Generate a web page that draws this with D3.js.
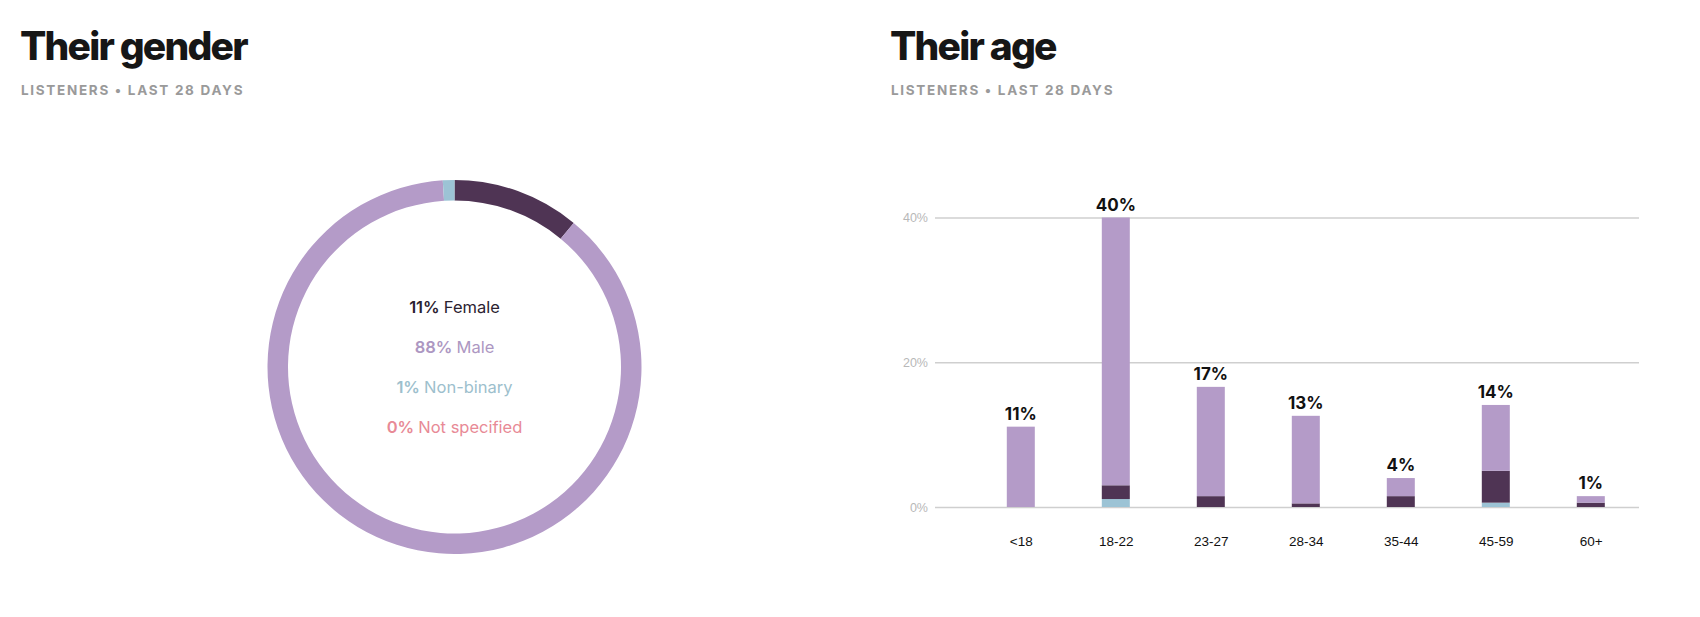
<!DOCTYPE html>
<html>
<head>
<meta charset="utf-8">
<script src="https://cdn.jsdelivr.net/npm/d3@7"></script>
<style>
  body { margin: 0; background: #fff; }
  svg { display: block; font-family: Inter, "Noto Sans", sans-serif; }
  .grid line { stroke: #cfcfcf; stroke-width: 1.5; }
  .grid text { fill: #b8b8b8; font-size: 12.5px; }
  .xaxis text { fill: #111; font-size: 13.5px; }
</style>
</head>
<body>
<div id="chart"></div>
<script>
// gender split
const genders = ['Female', 'Male', 'Non-binary', 'Not specified'];
const genderValues = [11, 88, 1, 0];
const genderColors = ['#4f3454', '#b49bc8', '#9cc3d5', '#e8838f'];
const genderTextColors = ['#2b2230', '#ad97c2', '#9dbfcd', '#e88a96'];

// age split, stacked bottom to top: non-binary, female, male
const ageGroups = ['<18', '18-22', '23-27', '28-34', '35-44', '45-59', '60+'];
const ageNonBinary = [0, 1.1, 0, 0, 0, 0.6, 0];
const ageFemale = [0, 1.9, 1.5, 0.5, 1.5, 4.4, 0.6];
const ageMale = [11.1, 37, 15.1, 12.1, 2.5, 9.1, 0.9];
const ageLabels = ['11%', '40%', '17%', '13%', '4%', '14%', '1%'];
const yTicks = [0, 20, 40];

const width = 1700, height = 617;

const svg = d3.select('#chart').append('svg')
    .attr('width', width)
    .attr('height', height);

// titles
function title(x, text) {
  svg.append('text')
      .attr('x', x).attr('y', 60)
      .attr('font-size', 39)
      .attr('font-weight', 800)
      .attr('letter-spacing', -1.8)
      .attr('fill', '#161616')
      .text(text);
  svg.append('text')
      .attr('x', x + 1).attr('y', 95)
      .attr('font-size', 13.5)
      .attr('font-weight', 700)
      .attr('letter-spacing', 1.7)
      .attr('fill', '#9a9a9a')
      .text('LISTENERS • LAST 28 DAYS');
}
title(20, 'Their gender');
title(890, 'Their age');

// donut
const pie = d3.pie().sort(null).value(d => d);
const arc = d3.arc().innerRadius(166.5).outerRadius(187);

const donut = svg.append('g')
    .attr('transform', 'translate(454.5,367)');

donut.selectAll('path')
    .data(pie(genderValues))
    .enter()
    .append('path')
    .attr('d', arc)
    .attr('fill', (d, i) => genderColors[i]);

const legend = donut.selectAll('.lab')
    .data(genders)
    .enter()
    .append('text')
    .attr('class', 'lab')
    .attr('text-anchor', 'middle')
    .attr('y', (d, i) => -54 + i * 40)
    .attr('font-size', 16.5)
    .attr('fill', (d, i) => genderTextColors[i]);
legend.append('tspan')
    .attr('font-weight', 600)
    .text((d, i) => genderValues[i] + '% ');
legend.append('tspan')
    .text(d => d);

// bars
const y = d3.scaleLinear()
    .domain([0, 40])
    .range([507, 217.5]);

const x = d3.scalePoint()
    .domain(ageGroups)
    .range([1020.8, 1590.8]);

const gridLeft = 935, gridRight = 1639;

svg.append('g')
    .attr('class', 'grid')
    .attr('transform', 'translate(' + gridLeft + ',0)')
    .call(d3.axisLeft(y)
        .tickValues(yTicks)
        .tickSize(-(gridRight - gridLeft))
        .tickPadding(7)
        .tickFormat(d => d + '%'))
    .call(g => g.select('.domain').remove());

svg.append('g')
    .attr('class', 'xaxis')
    .attr('transform', 'translate(0,507)')
    .call(d3.axisBottom(x).tickSize(0).tickPadding(29))
    .call(g => g.select('.domain').remove());

const rows = ageGroups.map((g, i) => ({
  group: g, nb: ageNonBinary[i], female: ageFemale[i], male: ageMale[i]
}));
const stack = d3.stack().keys(['nb', 'female', 'male']);
const stackColors = { nb: '#9cc3d5', female: '#4f3454', male: '#b49bc8' };
const barW = 28;

svg.selectAll('.layer')
    .data(stack(rows))
    .enter()
    .append('g')
    .attr('fill', d => stackColors[d.key])
    .selectAll('rect')
    .data(d => d)
    .enter()
    .append('rect')
    .attr('x', d => x(d.data.group) - barW / 2)
    .attr('width', barW)
    .attr('y', d => y(d[1]))
    .attr('height', d => y(d[0]) - y(d[1]));

svg.selectAll('.val')
    .data(rows)
    .enter()
    .append('text')
    .attr('text-anchor', 'middle')
    .attr('x', d => x(d.group))
    .attr('y', d => y(d.nb + d.female + d.male) - 7)
    .attr('font-size', 17)
    .attr('font-weight', 700)
    .attr('fill', '#111')
    .text((d, i) => ageLabels[i]);
</script>
</body>
</html>
